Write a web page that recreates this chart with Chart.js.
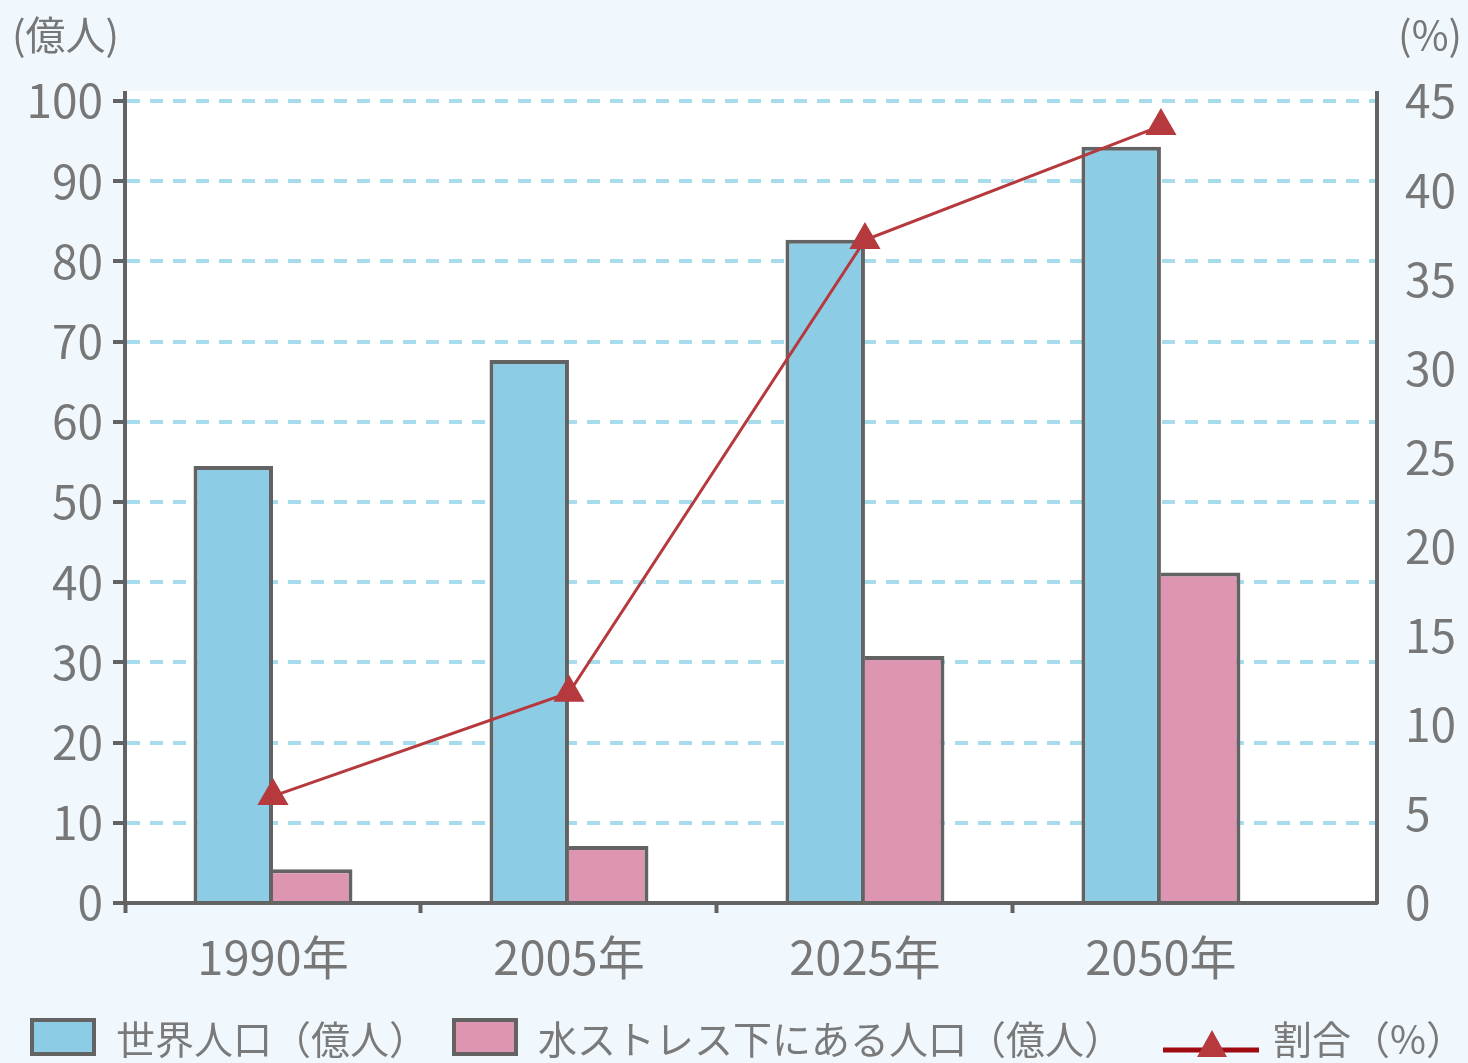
<!DOCTYPE html>
<html lang="ja">
<head>
    <meta charset="UTF-8">
    <title>世界人口と水ストレス下にある人口</title>
    <script src="https://cdn.jsdelivr.net/npm/chart.js"></script>
    <style>
        body {
            margin: 0;
            background: #f0f8fe;
            font-family: "Noto Sans CJK JP", sans-serif;
        }

        .wrap {
            position: relative;
            width: 1468px;
            height: 1063px;
        }

        .legend-item {
            position: absolute;
            top: 1012px;
            height: 50px;
            display: flex;
            align-items: center;
            font-size: 39px;
            color: #7a7a7a;
            white-space: nowrap;
        }

        .legend-box {
            width: 66px;
            height: 38px;
            box-sizing: border-box;
            border: 4px solid #636363;
            margin-right: 20px;
        }
    </style>
</head>
<body>
    <div class="wrap">
        <canvas id="waterChart" width="1468" height="1063"></canvas>

        <div class="legend-item" style="left:30px;">
            <div class="legend-box" style="background:#8ccde5;"></div>世界人口（億人）
        </div>
        <div class="legend-item" style="left:452px;">
            <div class="legend-box" style="background:#dd95b2;"></div>水ストレス下にある人口（億人）
        </div>
        <div class="legend-item" style="left:1163px;">
            <svg width="96" height="50" style="margin-right:14px;">
                <line x1="0" y1="38" x2="96" y2="38" stroke="#a00a10" stroke-width="5"/>
                <polygon points="49,18 64,45 34,45" fill="#b5393d"/>
            </svg>割合（%）
        </div>
    </div>

    <script>
        // values
        const years = ['1990年', '2005年', '2025年', '2050年'];
        const worldPop = [54.5, 67.7, 82.7, 94.3];     // 億人
        const stressPop = [4.2, 7.1, 30.8, 41.2];      // 億人
        const shareRate = [6.0, 11.8, 37.2, 43.6];     // %

        const leftTicks = { min: 0, max: 100, step: 10 };
        const rightTicks = { min: 0, max: 45, step: 5 };

        const textColor = '#777777';
        const axisColor = '#636363';
        const tickFont = { family: '"Noto Sans CJK JP", sans-serif', size: 46 };

        // white plot area and unit labels
        const plotDecor = {
            id: 'plotDecor',
            beforeDraw(chart) {
                const { ctx, chartArea } = chart;
                ctx.save();
                ctx.fillStyle = '#ffffff';
                ctx.fillRect(chartArea.left, chartArea.top - 10,
                    chartArea.right - chartArea.left, chartArea.bottom - chartArea.top + 10);
                ctx.restore();
            },
            afterDraw(chart) {
                const { ctx, chartArea } = chart;
                ctx.save();
                ctx.fillStyle = textColor;
                ctx.font = '40px "Noto Sans CJK JP", sans-serif';
                ctx.textBaseline = 'middle';
                ctx.textAlign = 'left';
                ctx.fillText('(億人)', 12, 35);
                ctx.textAlign = 'right';
                ctx.fillText('(%)', chart.width - 6, 35);
                // axis line sticks out a little above the top grid line
                ctx.strokeStyle = axisColor;
                ctx.lineWidth = 4;
                ctx.beginPath();
                ctx.moveTo(chartArea.left, chartArea.top - 10);
                ctx.lineTo(chartArea.left, chartArea.top);
                ctx.moveTo(chartArea.right, chartArea.top - 10);
                ctx.lineTo(chartArea.right, chartArea.top);
                ctx.stroke();
                ctx.restore();
            }
        };

        new Chart(document.getElementById('waterChart'), {
            data: {
                labels: years,
                datasets: [
                    {
                        type: 'line',
                        label: '割合（%）',
                        data: shareRate,
                        yAxisID: 'y1',
                        borderColor: '#b5393d',
                        borderWidth: 3,
                        pointStyle: 'triangle',
                        pointRadius: 18,
                        pointBackgroundColor: '#b5393d',
                        pointBorderWidth: 0,
                        order: 1
                    },
                    {
                        type: 'bar',
                        label: '世界人口（億人）',
                        data: worldPop,
                        yAxisID: 'y',
                        backgroundColor: '#8ccde5',
                        borderColor: axisColor,
                        borderWidth: { top: 4, left: 4, right: 4, bottom: 0 },
                        categoryPercentage: 0.537,
                        barPercentage: 1.0,
                        order: 2
                    },
                    {
                        type: 'bar',
                        label: '水ストレス下にある人口（億人）',
                        data: stressPop,
                        yAxisID: 'y',
                        backgroundColor: '#dd95b2',
                        borderColor: axisColor,
                        borderWidth: { top: 4, left: 0, right: 4, bottom: 0 },
                        categoryPercentage: 0.537,
                        barPercentage: 1.0,
                        order: 2
                    }
                ]
            },
            options: {
                responsive: false,
                animation: false,
                layout: { padding: { top: 101, left: 0, right: 0, bottom: 0 } },
                plugins: {
                    legend: { display: false },
                    tooltip: { enabled: false }
                },
                scales: {
                    x: {
                        offset: true,
                        afterBuildTicks(scale) {
                            // the plot runs a bit past the last category
                            scale._valueRange = 4.23;
                        },
                        afterFit(scale) { scale.height = 160; },
                        grid: {
                            offset: true,
                            drawOnChartArea: false,
                            tickLength: 10,
                            tickWidth: 4,
                            tickColor: c => c.index === undefined ? 'rgba(0,0,0,0)' : axisColor
                        },
                        border: { color: axisColor, width: 4 },
                        ticks: {
                            color: textColor,
                            font: { family: tickFont.family, size: 47 },
                            padding: 16,
                            maxRotation: 0,
                            autoSkip: false
                        }
                    },
                    y: {
                        position: 'left',
                        min: leftTicks.min,
                        max: leftTicks.max,
                        afterFit(scale) { scale.width = 125; },
                        grid: {
                            color: '#a6dcec',
                            lineWidth: 4,
                            tickColor: axisColor,
                            tickWidth: 4,
                            tickLength: 12
                        },
                        border: { color: axisColor, width: 4, dash: [13, 10] },
                        ticks: {
                            stepSize: leftTicks.step,
                            color: textColor,
                            font: tickFont,
                            padding: 10
                        }
                    },
                    y1: {
                        position: 'right',
                        min: rightTicks.min,
                        max: rightTicks.max,
                        afterFit(scale) { scale.width = 91; },
                        grid: { display: false },
                        border: { color: axisColor, width: 4 },
                        ticks: {
                            stepSize: rightTicks.step,
                            color: textColor,
                            font: tickFont,
                            padding: 20
                        }
                    }
                }
            },
            plugins: [plotDecor]
        });
    </script>
</body>
</html>
